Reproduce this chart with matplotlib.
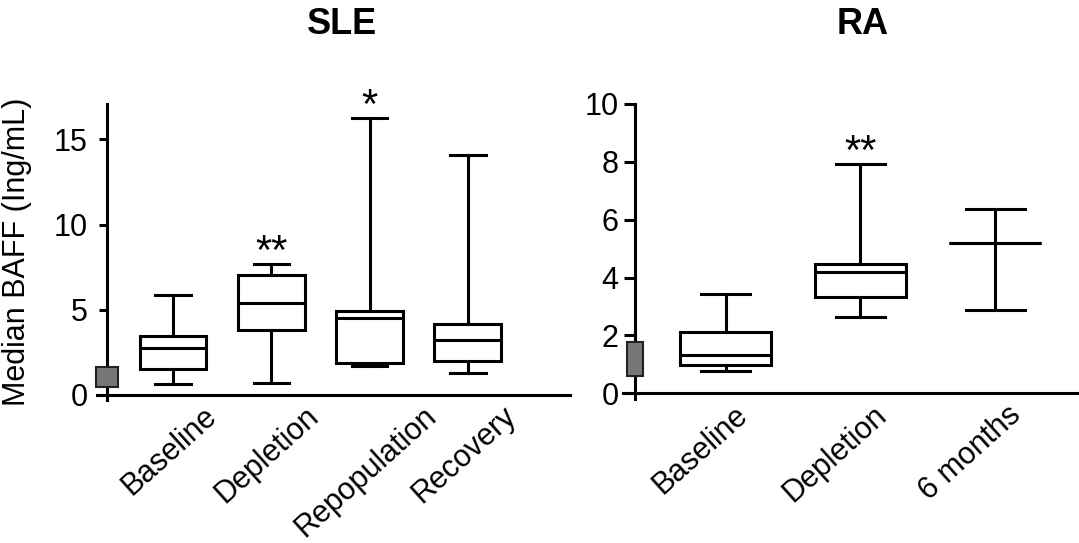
import matplotlib
matplotlib.use("Agg")
import matplotlib.pyplot as plt
import matplotlib.transforms as mtransforms
from matplotlib.patches import Rectangle

plt.rcParams['font.family'] = ['Liberation Sans', 'DejaVu Sans']

# SLE panel
sle_groups = ['Baseline', 'Depletion', 'Repopulation', 'Recovery']
sle_whislo = [0.65, 0.69, 1.72, 1.31]
sle_q1 = [1.51, 3.78, 1.86, 1.96]
sle_med = [2.78, 5.39, 4.51, 3.24]
sle_q3 = [3.47, 7.02, 4.94, 4.16]
sle_whishi = [5.88, 7.69, 16.27, 14.06]
sle_sig = ['', '**', '*', '']
sle_normal = [0.47, 1.65]
sle_yticks = [0, 5, 10, 15]

# RA panel
ra_groups = ['Baseline', 'Depletion', '6 months']
ra_whislo = [0.77, 2.65, 2.88]
ra_q1 = [0.98, 3.32, 5.18]
ra_med = [1.31, 4.18, 5.18]
ra_q3 = [2.13, 4.47, 5.18]
ra_whishi = [3.44, 7.93, 6.36]
ra_sig = ['', '**', '']
ra_normal = [0.60, 1.78]
ra_yticks = [0, 2, 4, 6, 8, 10]

LW = 2.2

fig = plt.figure(figsize=(10.79, 5.43), dpi=100)
ax1 = fig.add_axes([0.0899, 0.2634, 0.4384, 0.5446])
ax2 = fig.add_axes([0.5774, 0.2652, 0.4226, 0.5433])


def make_stats(groups, lo, q1, med, q3, hi):
    stats = []
    for i in range(len(groups)):
        stats.append(dict(label=groups[i], whislo=lo[i], q1=q1[i], med=med[i],
                          q3=q3[i], whishi=hi[i], fliers=[]))
    return stats


def draw_panel(ax, groups, lo, q1, med, q3, hi, sig, normal, yticks,
               xlim, ylim, spine_x, rect_w, capw, label_dx, ylen, ypad):
    pos = list(range(1, len(groups) + 1))
    line = dict(color='black', linewidth=LW)
    ax.bxp(make_stats(groups, lo, q1, med, q3, hi), positions=pos, widths=0.68,
           capwidths=capw, patch_artist=True, showfliers=False,
           boxprops=dict(facecolor='white', edgecolor='black', linewidth=LW),
           whiskerprops=line, capprops=line, medianprops=line)
    for p, h, s in zip(pos, hi, sig):
        if s:
            ax.annotate(s, (p, h), xytext=(0, 0), textcoords='offset points',
                        ha='center', va='baseline', fontsize=30, annotation_clip=False)
    ax.add_patch(Rectangle((spine_x - rect_w / 2, normal[0]), rect_w, normal[1] - normal[0],
                           facecolor='#777777', edgecolor='#222222', linewidth=1.5,
                           zorder=3, clip_on=False))
    ax.set_xlim(*xlim)
    ax.set_ylim(*ylim)
    ax.spines['top'].set_visible(False)
    ax.spines['right'].set_visible(False)
    ax.spines['left'].set_position(('data', spine_x))
    ax.spines['bottom'].set_position(('data', 0))
    for sp in ('left', 'bottom'):
        ax.spines[sp].set_linewidth(LW)
    ax.tick_params(axis='x', length=0, pad=4.5)
    ax.tick_params(axis='y', labelsize=22, width=LW, length=ylen, pad=ypad, direction='out')
    ax.set_yticks(yticks)
    ax.set_xticks(pos)
    ax.set_xticklabels(groups)
    off = mtransforms.ScaledTranslation(label_dx / 100, 0, fig.dpi_scale_trans)
    for lab in ax.get_xticklabels():
        lab.set_rotation(42)
        lab.set_ha('center')
        lab.set_va('top')
        lab.set_fontsize(22)
        lab.set_transform(lab.get_transform() + off)
    ax.set_facecolor('none')


draw_panel(ax1, sle_groups, sle_whislo, sle_q1, sle_med, sle_q3, sle_whishi, sle_sig,
           sle_normal, sle_yticks, (0.227, 5.04), (-0.3, 17.06), 0.33, 0.224,
           0.36, -4, 6, 8)
draw_panel(ax2, ra_groups, ra_whislo, ra_q1, ra_med, ra_q3, ra_whishi, ra_sig,
           ra_normal, ra_yticks, (0.24, 3.62), (-0.2, 10.0), 0.33, 0.12,
           [0.36, 0.36, 0.44], -25, 8, 4)

ax1.set_ylabel('Median BAFF (Ing/mL)', fontsize=22)
ax1.yaxis.set_label_coords(-0.137, 0.5)

fig.text(342 / 1079, 1 - 25 / 543, 'SLE', fontsize=26, fontweight='bold',
         ha='center', va='center')
fig.text(863 / 1079, 1 - 25 / 543, 'RA', fontsize=26, fontweight='bold',
         ha='center', va='center')

fig.savefig('out.png', dpi=100)
